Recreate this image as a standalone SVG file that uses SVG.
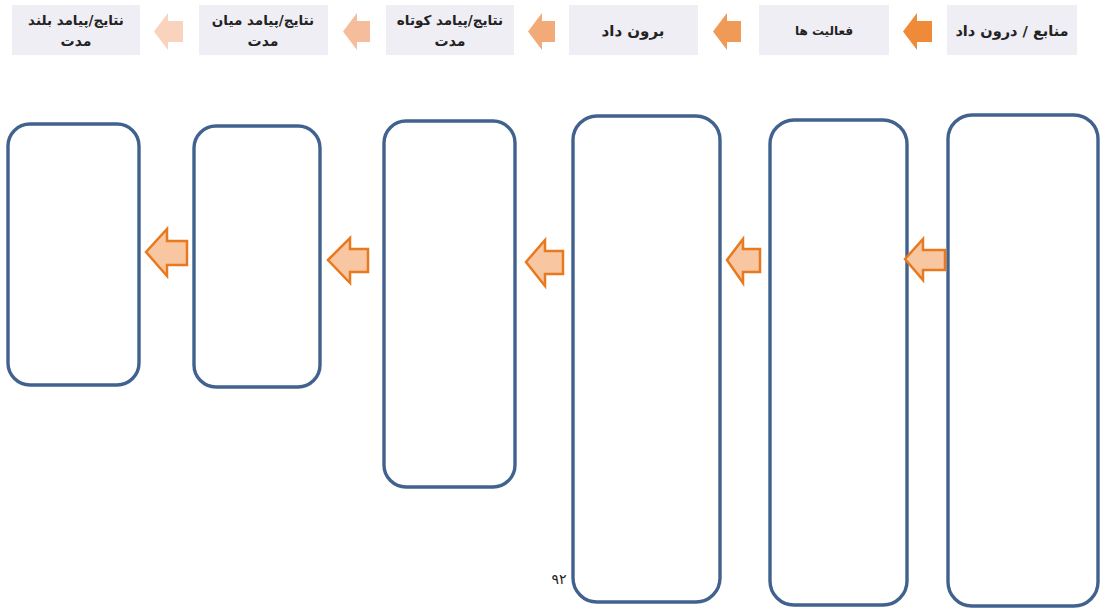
<svg xmlns="http://www.w3.org/2000/svg" width="1100" height="609" viewBox="0 0 1100 609">
<defs>
<style>
.hdr{fill:#efeef4;}
.ht{font-family:"DejaVu Sans",sans-serif;fill:#222;text-anchor:middle;font-weight:bold;}
.big{fill:#fff;stroke:#41628e;stroke-width:3.4;}
.fa{fill:#f9c6a2;stroke:#e8791e;stroke-width:2.5;stroke-linejoin:miter;}
</style>
</defs>
<rect width="1100" height="609" fill="#fff"/>

<g id="h1"><rect class="hdr" x="947" y="5" width="130" height="50"/><text class="ht" x="1012" y="36" font-size="14.5" direction="rtl">منابع / درون داد</text></g>
<g id="h2"><rect class="hdr" x="759" y="5" width="130" height="50"/><text class="ht" x="824" y="35" font-size="12" font-weight="normal" direction="rtl">فعالیت ها</text></g>
<g id="h3"><rect class="hdr" x="569" y="5" width="129" height="50"/><text class="ht" x="633" y="36" font-size="15" direction="rtl">برون داد</text></g>
<g id="h4"><rect class="hdr" x="386" y="5" width="128" height="50"/><text class="ht" x="450" y="25" font-size="13.5" direction="rtl">نتایج/پیامد کوتاه</text><text class="ht" x="450" y="46" font-size="14" direction="rtl">مدت</text></g>
<g id="h5"><rect class="hdr" x="199" y="5" width="129" height="50"/><text class="ht" x="263" y="25" font-size="13.5" direction="rtl">نتایج/پیامد میان</text><text class="ht" x="263" y="46" font-size="14" direction="rtl">مدت</text></g>
<g id="h6"><rect class="hdr" x="12" y="5" width="128" height="50"/><text class="ht" x="76" y="25" font-size="13.5" direction="rtl">نتایج/پیامد بلند</text><text class="ht" x="76" y="46" font-size="14" direction="rtl">مدت</text></g>

<g id="b1"><rect class="big" x="948" y="115" width="150" height="491" rx="24"/></g>
<g id="b2"><rect class="big" x="770" y="120" width="137" height="485" rx="24"/></g>
<g id="b3"><rect class="big" x="573" y="116" width="147" height="486" rx="24"/></g>
<g id="b4"><rect class="big" x="384" y="121" width="131" height="366" rx="22"/></g>
<g id="b5"><rect class="big" x="194" y="126" width="126" height="261" rx="22"/></g>
<g id="b6"><rect class="big" x="8" y="124" width="131" height="261" rx="22"/></g>

<g id="connectors">
<path fill="#ef8b38" d="M903,31.5 L917,13 L917,21 L932,21 L932,42 L917,42 L917,50 Z"/>
<path fill="#f09a57" d="M713,31.5 L727,13 L727,21 L741,21 L741,42 L727,42 L727,50 Z"/>
<path fill="#f2aa79" d="M528,31.5 L542,13 L542,21 L555,21 L555,42 L542,42 L542,50 Z"/>
<path fill="#f5bd9b" d="M343,31.5 L357,13 L357,21 L370,21 L370,42 L357,42 L357,50 Z"/>
<path fill="#f9d3bd" d="M154,31.5 L168,13 L168,21 L183,21 L183,42 L168,42 L168,50 Z"/>

<path class="fa" d="M905,259 L923,239 L923,250 L945,250 L945,270 L923,270 L923,280 Z"/>
<path class="fa" d="M727,260 L743,239 L743,249 L760,249 L760,272 L743,272 L743,283 Z"/>
<path class="fa" d="M526,262 L545,240 L545,251 L563,251 L563,274 L545,274 L545,286 Z"/>
<path class="fa" d="M328,260 L350,238 L350,249 L368,249 L368,272 L350,272 L350,283 Z"/>
<path class="fa" d="M146,252 L167,229 L167,241 L187,241 L187,265 L167,265 L167,276 Z"/>
</g>

<text x="559" y="584" font-family="DejaVu Sans,sans-serif" font-size="14" fill="#222" text-anchor="middle">۹۲</text>
</svg>
